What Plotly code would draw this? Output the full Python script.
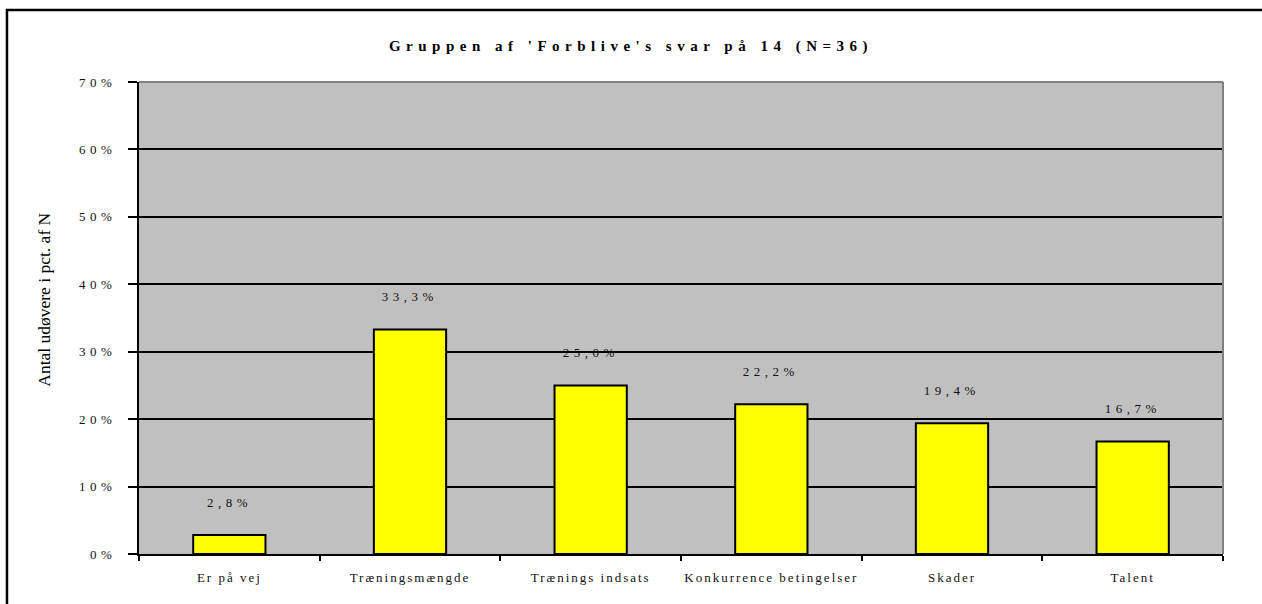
import plotly.graph_objects as go

categories = ["Er på vej", "Træningsmængde", "Trænings indsats",
              "Konkurrence betingelser", "Skader", "Talent"]
values = [2.8, 33.3, 25.0, 22.2, 19.4, 16.7]
y_ticks = [0, 10, 20, 30, 40, 50, 60, 70]
y_tick_labels = [f"{v}%" for v in y_ticks]

TITLE = "Gruppen af 'Forblive's svar på 14 (N=36)"
Y_TITLE = "Antal udøvere i pct. af N"
SERIF = "Liberation Serif, Times New Roman, serif"

fig = go.Figure()
fig.add_trace(go.Bar(
    x=categories, y=values,
    marker=dict(color="#FFFF00", line=dict(color="black", width=2)),
    hoverinfo="x+y"))

# value labels above each bar, Danish decimal comma
for c, v in zip(categories, values):
    fig.add_annotation(x=c, y=v, text=f"{v:.1f}%".replace(".", ","),
                       showarrow=False, yanchor="bottom", yshift=23,
                       font=dict(family=SERIF, size=13, color="#111"))

fig.add_annotation(x=-0.099, y=0.538, xref="paper", yref="paper",
                   text=Y_TITLE, textangle=-90, showarrow=False,
                   font=dict(family=SERIF, size=17.5, color="black"))

fig.update_layout(
    width=1262, height=604,
    title=dict(text=f"<b>{TITLE}</b>", x=0.5, xanchor="center",
               y=0.925, yanchor="middle",
               font=dict(family=SERIF, size=15, color="black")),
    paper_bgcolor="white", plot_bgcolor="#C0C0C0",
    margin=dict(l=139, r=39, t=82, b=50),
    bargap=0.6, showlegend=False,
    xaxis=dict(showline=True, linecolor="black", linewidth=2,
               ticks="outside", tickson="boundaries", ticklen=5,
               tickcolor="black", tickwidth=2, showgrid=False,
               ticklabelstandoff=10,
               tickfont=dict(family=SERIF, size=13, color="#111")),
    yaxis=dict(range=[0, 70], tickvals=y_ticks, ticktext=y_tick_labels,
               showline=True, linecolor="black", linewidth=2,
               ticks="outside", ticklen=9, tickcolor="black", tickwidth=2,
               showgrid=True, gridcolor="black", gridwidth=2,
               zeroline=False, ticklabelstandoff=9,
               tickfont=dict(family=SERIF, size=13, color="#111")),
    shapes=[
        # outer chart frame
        dict(type="rect", xref="paper", yref="paper",
             x0=-0.1218, x1=1.2, y0=-0.3, y1=1.1525,
             line=dict(color="black", width=2.5), layer="above"),
        # grey plot-area border on top and right
        dict(type="line", xref="paper", yref="paper", x0=0, x1=1, y0=1, y1=1,
             line=dict(color="#808080", width=2), layer="above"),
        dict(type="line", xref="paper", yref="paper", x0=1, x1=1, y0=0, y1=1,
             line=dict(color="#808080", width=2), layer="above"),
    ])

# no page margin, plus expanded letter spacing like the original
spacing_js = """
document.body.style.margin = '0';
var gd = document.getElementsByClassName('plotly-graph-div')[0];
function sp(sel, px) {
  gd.querySelectorAll(sel).forEach(function(t){ t.style.letterSpacing = px; });
}
sp('.gtitle', '5.5px');
sp('.ytick text', '4.5px');
sp('.xtick text', '2px');
gd.querySelectorAll('.annotation-text').forEach(function(t){
  if (t.textContent.indexOf('%') >= 0) t.style.letterSpacing = '4.5px';
});
"""

fig.write_html("out.html", post_script=spacing_js,
               config={"displayModeBar": False})
